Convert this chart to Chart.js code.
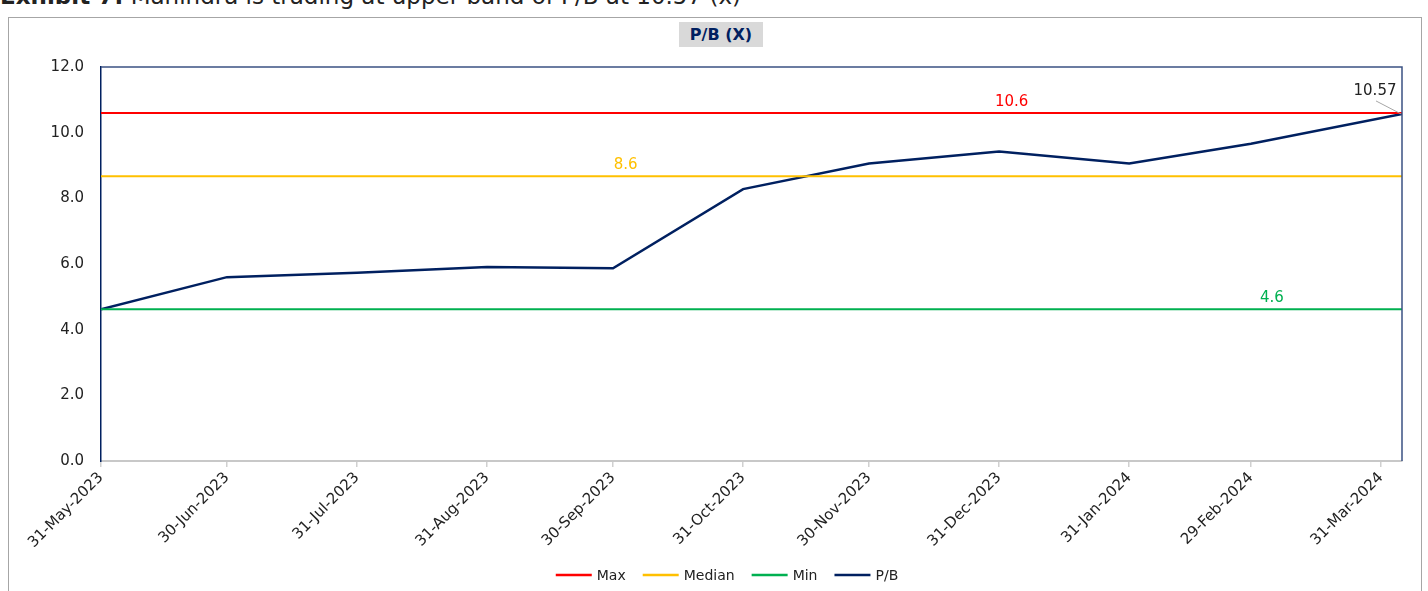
<!DOCTYPE html>
<html>
<head>
<meta charset="utf-8">
<script src="https://cdn.jsdelivr.net/npm/chart.js@4"></script>
<style>
  html, body { margin: 0; padding: 0; background: #fff; overflow: hidden; }
  #heading { position: absolute; left: 0; top: -17px; font: 23px "DejaVu Sans", sans-serif; color: #222; white-space: nowrap; }
  #frame { position: absolute; left: 8px; top: 17px; width: 1412px; height: 600px; border: 1px solid #a6a6a6; }
  #ctitle { position: absolute; left: 679px; top: 22px; width: 84px; height: 25px; background: #d9d9d9;
            font: bold 16px "DejaVu Sans", sans-serif; color: #002060; text-align: center; line-height: 25px; }
  canvas { position: absolute; left: 0; top: 0; }
</style>
</head>
<body>
<div id="heading"><b>Exhibit 7:</b> Mahindra is trading at upper band of P/B at 10.57 (x)</div>
<div id="frame"></div>
<div id="ctitle">P/B (X)</div>
<canvas id="myChart" width="1428" height="591"></canvas>
<script>
"use strict";

const tickLabels = ['31-May-2023', '30-Jun-2023', '31-Jul-2023', '31-Aug-2023', '30-Sep-2023', '31-Oct-2023',
    '30-Nov-2023', '31-Dec-2023', '31-Jan-2024', '29-Feb-2024', '31-Mar-2024'];
const pbDates = ['31-May-2023', '30-Jun-2023', '31-Jul-2023', '31-Aug-2023', '30-Sep-2023', '31-Oct-2023',
    '30-Nov-2023', '31-Dec-2023', '31-Jan-2024', '29-Feb-2024', '05-Apr-2024'];
const pbValues = [4.62, 5.60, 5.73, 5.91, 5.87, 8.28, 9.06, 9.43, 9.06, 9.66, 10.57];
const refNames = ['Max', 'Median', 'Min'];
const refValues = [10.6, 8.67, 4.62];
const refLabels = ['10.6', '8.6', '4.6'];
const refLabelDates = ['03-Jan-2024', '03-Oct-2023', '05-Mar-2024'];
const refColors = ['#ff0000', '#ffc000', '#00b050'];
const pbColor = '#002060';
const axisStart = '31-May-2023';
const axisEnd = '05-Apr-2024';

const MONTHS = { Jan: 0, Feb: 1, Mar: 2, Apr: 3, May: 4, Jun: 5, Jul: 6, Aug: 7, Sep: 8, Oct: 9, Nov: 10, Dec: 11 };
function dayOf(s) {
    const p = s.split('-');
    const t0 = axisStart.split('-');
    return (Date.UTC(+p[2], MONTHS[p[1]], +p[0]) - Date.UTC(+t0[2], MONTHS[t0[1]], +t0[0])) / 86400000;
}
const tickDays = tickLabels.map(dayOf);
const endDay = dayOf(axisEnd);
const FONT = '"DejaVu Sans", sans-serif';

const datasets = refNames.map(function (name, i) {
    return {
        label: name,
        data: [{ x: 0, y: refValues[i] }, { x: endDay, y: refValues[i] }],
        borderColor: refColors[i],
        backgroundColor: refColors[i],
        borderWidth: 2,
        pointRadius: 0
    };
});
datasets.push({
    label: 'P/B',
    data: pbDates.map(function (d, i) { return { x: dayOf(d), y: pbValues[i] }; }),
    borderColor: pbColor,
    backgroundColor: pbColor,
    borderWidth: 2.5,
    pointRadius: 0
});

const decor = {
    id: 'decor',
    afterDatasetsDraw(chart) {
        const ctx = chart.ctx, xs = chart.scales.x, ys = chart.scales.y, a = chart.chartArea;
        ctx.save();
        // plot frame top and right
        ctx.strokeStyle = '#3b5283';
        ctx.lineWidth = 1.5;
        ctx.beginPath();
        ctx.moveTo(a.left, a.top);
        ctx.lineTo(a.right, a.top);
        ctx.lineTo(a.right, a.bottom);
        ctx.stroke();
        // reference labels
        ctx.font = '15px ' + FONT;
        ctx.textAlign = 'center';
        ctx.textBaseline = 'middle';
        refLabels.forEach(function (t, i) {
            ctx.fillStyle = refColors[i];
            ctx.fillText(t, xs.getPixelForValue(dayOf(refLabelDates[i])), ys.getPixelForValue(refValues[i]) - 11);
        });
        // last value label with leader
        const n = pbValues.length - 1;
        const px = xs.getPixelForValue(dayOf(pbDates[n])), py = ys.getPixelForValue(pbValues[n]);
        ctx.strokeStyle = '#a6a6a6';
        ctx.lineWidth = 1;
        ctx.beginPath();
        ctx.moveTo(px - 26, py - 13);
        ctx.lineTo(px - 1, py);
        ctx.stroke();
        ctx.fillStyle = '#222';
        ctx.fillText(pbValues[n].toFixed(2), px - 27, py - 23);
        ctx.restore();
    },
    afterDraw(chart) {
        // legend
        const ctx = chart.ctx;
        ctx.save();
        ctx.font = '14px ' + FONT;
        ctx.textBaseline = 'middle';
        const items = chart.data.datasets.map(function (d) {
            return { text: d.label, color: d.borderColor, w: 36 + 5 + ctx.measureText(d.label).width };
        });
        const total = items.reduce(function (s, it) { return s + it.w; }, 0) + 17 * (items.length - 1);
        let x = 727 - total / 2;
        const y = 575;
        items.forEach(function (it) {
            ctx.strokeStyle = it.color;
            ctx.lineWidth = 2.5;
            ctx.beginPath();
            ctx.moveTo(x, y);
            ctx.lineTo(x + 36, y);
            ctx.stroke();
            ctx.fillStyle = '#222';
            ctx.fillText(it.text, x + 41, y + 1);
            x += it.w + 17;
        });
        ctx.restore();
    }
};

const ctx = document.getElementById('myChart');
const chart = new Chart(ctx, {
    type: 'line',
    data: { datasets: datasets },
    options: {
        responsive: false,
        animation: false,
        layout: { padding: { left: 0, right: 26, top: 67, bottom: 0 } },
        plugins: { legend: { display: false }, tooltip: { enabled: false }, title: { display: false } },
        scales: {
            x: {
                type: 'linear',
                min: 0,
                max: endDay,
                afterBuildTicks: function (scale) {
                    scale.ticks = tickDays.map(function (v) { return { value: v }; });
                },
                afterFit: function (scale) { scale.height = 130; },
                grid: { drawOnChartArea: false, color: '#d0d0d0', tickLength: 6, lineWidth: 1.5 },
                border: { color: '#c8c8c8', width: 2 },
                ticks: {
                    autoSkip: false,
                    maxRotation: 45,
                    minRotation: 45,
                    padding: 2,
                    color: '#222',
                    font: { family: FONT, size: 15 },
                    callback: function (v) {
                        const i = tickDays.indexOf(v);
                        return i >= 0 ? tickLabels[i] : '';
                    }
                }
            },
            y: {
                min: 0,
                max: 12,
                afterFit: function (scale) { scale.width = 101; },
                grid: { display: false, drawTicks: false },
                border: { color: pbColor, width: 1.5 },
                ticks: {
                    stepSize: 2,
                    padding: 17,
                    color: '#222',
                    font: { family: FONT, size: 15 },
                    callback: function (v) { return v.toFixed(1); }
                }
            }
        }
    },
    plugins: [decor]
});
</script>
</body>
</html>
